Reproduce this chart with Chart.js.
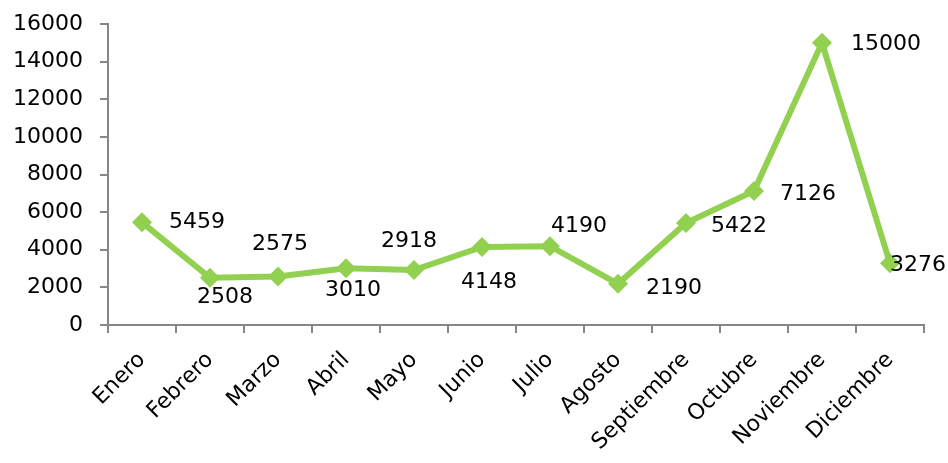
<!DOCTYPE html>
<html lang="es">
<head>
    <meta charset="UTF-8">
    <title>Ventas por mes</title>
    <script src="https://cdn.jsdelivr.net/npm/chart.js"></script>
    <style>
        body {
            margin: 0;
            background: #ffffff;
        }
        #wrap {
            width: 948px;
            height: 463px;
        }
    </style>
</head>
<body>
<div id="wrap">
    <canvas id="lineChart" width="948" height="463"></canvas>
</div>
<script>
    // datos del grafico
    const meses = ['Enero', 'Febrero', 'Marzo', 'Abril', 'Mayo', 'Junio', 'Julio',
        'Agosto', 'Septiembre', 'Octubre', 'Noviembre', 'Diciembre'];
    const valores = [5459, 2508, 2575, 3010, 2918, 4148, 4190, 2190, 5422, 7126, 15000, 3276];
    const ejeY = [0, 2000, 4000, 6000, 8000, 10000, 12000, 14000, 16000];

    // desplazamiento de cada etiqueta respecto a su punto (dx, dy)
    const desplazamientos = [
        [55, 0], [15, 19], [2, -32], [7, 22], [-5, -29], [7, 35],
        [29, -20], [56, 4], [53, 3], [54, 3], [64, 1], [28, 2]
    ];

    const fuente = '"DejaVu Sans", sans-serif';
    const verde = '#92D050';
    const gris = '#878787';

    // plugin sencillo para dibujar los valores junto a cada punto
    const etiquetasPlugin = {
        id: 'etiquetas',
        afterDatasetsDraw(chart) {
            const ctx = chart.ctx;
            const meta = chart.getDatasetMeta(0);
            ctx.save();
            ctx.font = '22px ' + fuente;
            ctx.fillStyle = '#000000';
            ctx.textAlign = 'center';
            ctx.textBaseline = 'middle';
            meta.data.forEach((punto, i) => {
                const d = desplazamientos[i];
                ctx.fillText(String(valores[i]), punto.x + d[0], punto.y + d[1]);
            });
            ctx.restore();
        }
    };

    const ctx = document.getElementById('lineChart').getContext('2d');
    new Chart(ctx, {
        type: 'line',
        data: {
            labels: meses,
            datasets: [{
                label: 'Valores',
                data: valores,
                borderColor: verde,
                backgroundColor: verde,
                borderWidth: 6,
                tension: 0,
                pointStyle: 'rectRot',
                pointRadius: 10,
                pointHoverRadius: 10,
                pointBackgroundColor: verde,
                pointBorderColor: verde,
                pointBorderWidth: 0,
                fill: false
            }]
        },
        options: {
            responsive: false,
            animation: false,
            events: [],
            layout: {
                padding: { top: 24, right: 24, left: 0, bottom: 0 }
            },
            plugins: {
                legend: { display: false },
                tooltip: { enabled: false }
            },
            scales: {
                x: {
                    offset: true,
                    grid: {
                        offset: true,
                        drawOnChartArea: false,
                        color: gris,
                        tickLength: 8,
                        lineWidth: 2
                    },
                    border: { color: gris, width: 2 },
                    ticks: {
                        color: '#000000',
                        font: { family: fuente, size: 22 },
                        minRotation: 45,
                        maxRotation: 45,
                        padding: 14,
                        autoSkip: false
                    },
                    afterFit(scale) {
                        scale.height = 138;
                    }
                },
                y: {
                    min: 0,
                    max: 16000,
                    afterBuildTicks(scale) {
                        scale.ticks = ejeY.map(v => ({ value: v }));
                    },
                    grid: {
                        drawOnChartArea: false,
                        color: gris,
                        tickLength: 8,
                        lineWidth: 2
                    },
                    border: { color: gris, width: 2 },
                    ticks: {
                        color: '#000000',
                        font: { family: fuente, size: 22 },
                        padding: 17,
                        callback: v => String(v)
                    },
                    afterFit(scale) {
                        scale.width = 108;
                        scale.paddingTop = 0;
                        scale.paddingBottom = 0;
                    }
                }
            }
        },
        plugins: [etiquetasPlugin]
    });
</script>
</body>
</html>
